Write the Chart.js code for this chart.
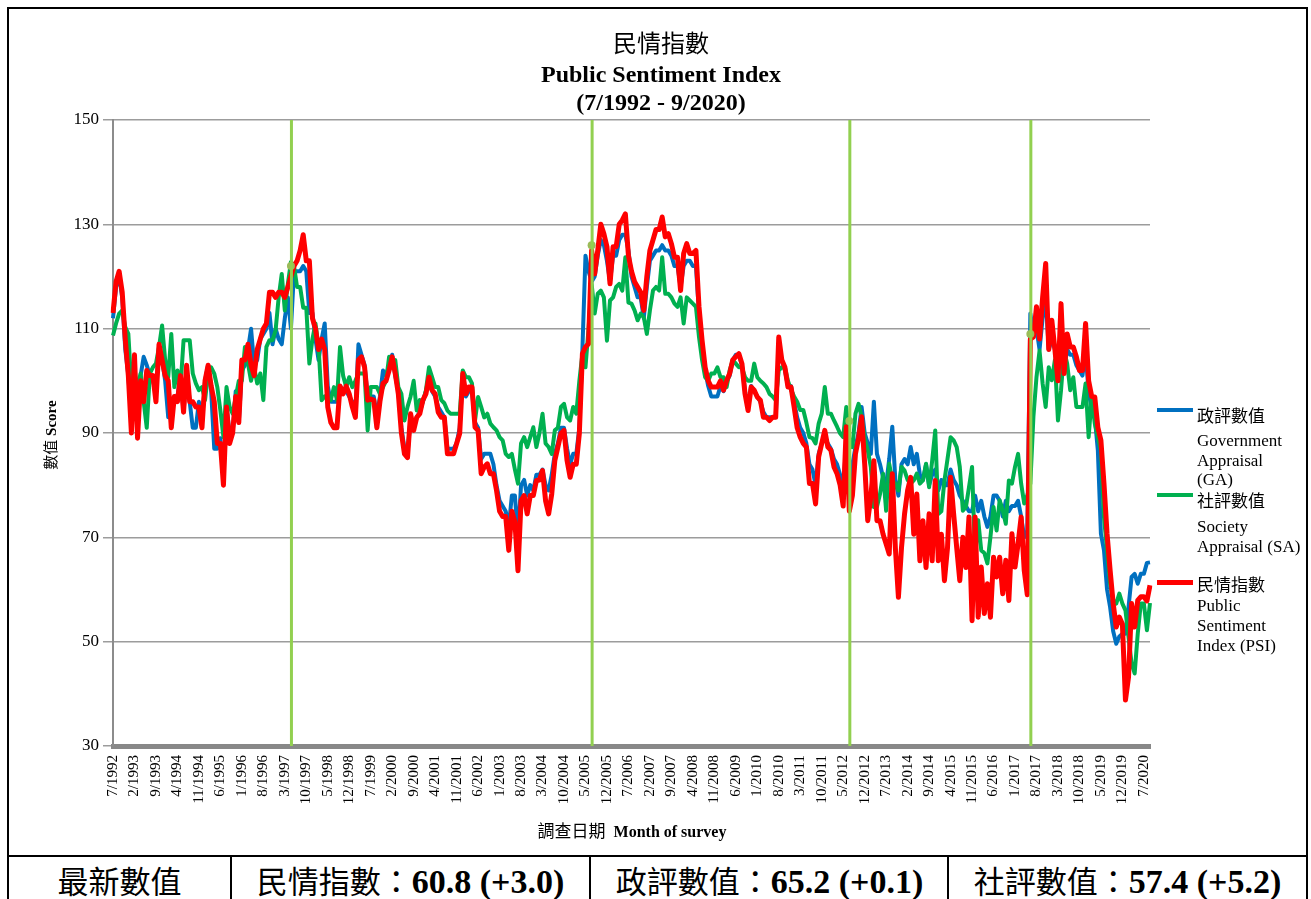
<!DOCTYPE html>
<html>
<head>
<meta charset="utf-8">
<title>民情指數 Public Sentiment Index</title>
<script src="https://cdn.jsdelivr.net/npm/chart.js"></script>
<style>
  body { margin: 0; width: 1311px; height: 899px; overflow: hidden; position: relative; background: #fff; color: #000;
         font-family: 'Liberation Serif', 'Noto Sans CJK TC', serif; }
  #frame { position: absolute; left: 7px; top: 7px; width: 1301px; height: 850px; border: 2px solid #000; box-sizing: border-box; }
  #psiChart { position: absolute; left: 0; top: 0; }
  .t { position: absolute; left: 411px; width: 500px; text-align: center; font-size: 24px; line-height: 30px; white-space: nowrap; }
  .t.zh { font-size: 24px; }
  .b { font-weight: bold; }
  .zh { font-family: 'Noto Sans CJK TC', sans-serif; font-weight: 400; }
  #ytitle { position: absolute; left: -50px; top: 425px; width: 200px; height: 20px; line-height: 20px; text-align: center;
            font-size: 15px; transform: rotate(-90deg); white-space: nowrap; }
  #xtitle { position: absolute; left: 432px; top: 820px; width: 400px; text-align: center; font-size: 16px; line-height: 20px; white-space: nowrap; }
  #xtitle .zh { font-size: 17px; }
  .lgline { position: absolute; left: 1157px; width: 36px; height: 4px; }
  .lg { position: absolute; left: 1197px; font-size: 17px; line-height: 20px; white-space: nowrap; }
  #table { position: absolute; left: 7px; top: 856px; width: 1301px; height: 50px; border-left: 2px solid #000; border-right: 2px solid #000; box-sizing: border-box; }
  .cell { position: absolute; top: 0; height: 48px; line-height: 48px; text-align: center; font-size: 34px; white-space: nowrap; }
  .cell .zh { font-size: 31px; }
  .sep { position: absolute; top: 0; width: 2px; height: 50px; background: #000; }
</style>
</head>
<body>
<div id="frame"></div>
<canvas id="psiChart" width="1311" height="855"></canvas>

<div class="t zh" style="top:27px">民情指數</div>
<div class="t b" style="top:59px">Public Sentiment Index</div>
<div class="t b" style="top:87px">(7/1992 - 9/2020)</div>

<div id="ytitle"><span class="zh">數值</span> <span class="b">Score</span></div>
<div id="xtitle"><span class="zh">調查日期</span>&nbsp; <span class="b">Month of survey</span></div>

<div class="lgline" style="top:408px;background:#0070C0"></div>
<div class="lg zh" style="top:405px">政評數值</div>
<div class="lg" style="top:431px">Government</div>
<div class="lg" style="top:451px">Appraisal</div>
<div class="lg" style="top:470px">(GA)</div>

<div class="lgline" style="top:493px;background:#00B050"></div>
<div class="lg zh" style="top:490px">社評數值</div>
<div class="lg" style="top:517px">Society</div>
<div class="lg" style="top:537px">Appraisal (SA)</div>

<div class="lgline" style="top:580px;height:5px;background:#FF0000"></div>
<div class="lg zh" style="top:574px">民情指數</div>
<div class="lg" style="top:596px">Public</div>
<div class="lg" style="top:616px">Sentiment</div>
<div class="lg" style="top:636px">Index (PSI)</div>

<div id="table">
  <div class="cell" style="left:0;width:221px"><span class="zh">最新數值</span></div>
  <div class="sep" style="left:221px"></div>
  <div class="cell" style="left:223px;width:357px"><span class="zh">民情指數：</span><span class="b">60.8 (+3.0)</span></div>
  <div class="sep" style="left:580px"></div>
  <div class="cell" style="left:582px;width:357px"><span class="zh">政評數值：</span><span class="b">65.2 (+0.1)</span></div>
  <div class="sep" style="left:938px"></div>
  <div class="cell" style="left:940px;width:357px"><span class="zh">社評數值：</span><span class="b">57.4 (+5.2)</span></div>
</div>

<script>
// monthly categories 7/1992 .. 9/2020
const startYear = 1992;
const startMonth = 7;
const monthCount = 339;
const months = [];
for (let k = 0; k < monthCount; k++) {
    const n = startMonth - 1 + k;
    months.push((n % 12 + 1) + '/' + (startYear + Math.floor(n / 12)));
}

// 民情指數 Public Sentiment Index (PSI)
const psiValues = [
    113, 119, 121, 117, 108, 101, 90, 105, 89, 100,
    96, 102, 101, 101, 96, 107, 104, 101, 100, 91,
    97, 96, 101, 94, 103, 96, 96, 95, 95, 91,
    100, 103, 99, 96, 88, 88, 80, 95, 88, 90,
    97, 92, 104, 104, 107, 103, 101, 106, 108, 110,
    111, 117, 117, 116, 117, 117, 116, 118, 120, 122,
    123, 125, 128, 123, 123, 112, 110, 106, 108, 106,
    95, 92, 91, 91, 99, 97.5, 99, 97.5, 95, 93,
    104, 104.6, 102.6, 96.3, 96.5, 96.3, 91, 96, 99.5, 100,
    102, 104.6, 101.4, 97.5, 90, 86, 85.3, 93.7, 90.5, 93,
    93.7, 96.3, 97.5, 100.7, 98.2, 97.5, 94, 93, 93, 86,
    86, 86, 88, 89.9, 101.4, 97.5, 98.8, 98.8, 91.1, 90.5,
    82.2, 83.5, 84.1, 82.2, 82.2, 79, 75, 74, 74, 67.5,
    75, 73, 63.6, 77, 78, 74.5, 78, 78, 80.9, 81,
    82.8, 77, 74.5, 78.3, 84.7, 87.3, 89.9, 90.5, 84.7, 81.5,
    84, 84, 89.9, 105.2, 106.5, 107.1, 125, 120.5, 125, 130,
    128.2, 125.7, 118.6, 125.7, 125.7, 130, 130.8, 132, 124, 121,
    119, 118, 117, 113.5, 120, 125, 127, 129, 129, 131.4,
    127.6, 128.2, 126.3, 123.7, 123.7, 117.3, 124.4, 126.3, 124.4, 124.4,
    125, 114.2, 107.8, 102.6, 100, 98.8, 98.8, 98.8, 100, 98.2,
    100, 101.4, 104, 104.6, 105.2, 103.3, 97.5, 94.3, 98.8, 98.2,
    96.9, 96.3, 93, 93, 92.4, 93, 93, 108.4, 104, 102.6,
    98.8, 98.8, 95, 91, 89.2, 88, 87.3, 80.3, 80.3, 76.4,
    85.4, 88, 90.5, 87.3, 86.7, 83.5, 82.2, 80, 76, 91.2,
    75, 78, 86, 89, 93.1, 84.1, 73.2, 77.7, 84.7, 73.2,
    73.2, 70.6, 68.7, 66.8, 82.2, 68, 58.5, 68, 74.5, 79,
    81.5, 70.6, 78.3, 65.5, 73.2, 64.2, 74.5, 65.5, 80.9, 65.5,
    70.6, 61.7, 68, 81.5, 74.5, 68, 61.7, 70, 64.2, 73.9,
    54, 73.9, 54.7, 64.3, 55.4, 61.1, 54.7, 66.2, 62.4, 66.2,
    59.2, 65.6, 57.9, 70.7, 64.3, 68.8, 73.9, 63.7, 59, 108,
    108.4, 114.2, 108, 116, 122.5, 106, 111.6, 106, 100, 114.8,
    101.4, 109, 106.5, 106.5, 104.6, 102, 102, 111, 100, 97,
    96.9, 91.1, 88.6, 80.3, 70.7, 63.7, 57.3, 52.8, 54.7, 53.4,
    38.8, 43.2, 57.3, 52.8, 57.9, 58.6, 58.6, 57.8, 60.8
];

// 政評數值 Government Appraisal (GA)
const gaValues = [
    112, 118, 120, 116, 106, 101, 92, 104, 91, 101,
    104.6, 103, 101, 100, 98, 106, 104, 100, 93, 93,
    97, 97, 101, 94, 102, 96, 91, 91, 96, 92,
    100, 103, 98, 87, 87, 89, 82, 95, 90, 90,
    98, 92, 102, 103, 106, 110, 103, 104, 108, 109,
    110, 113, 107, 110, 108, 107, 112, 116, 110, 121,
    121, 121, 122, 121, 113, 113, 108, 104, 108, 111,
    99, 96, 96, 96, 99, 98, 98, 97, 96, 94,
    107, 105, 103, 97, 97, 97, 93, 97, 102, 101,
    103, 105, 101, 98, 91, 87, 86, 93, 91, 93,
    94, 96, 98, 100, 98, 97, 95, 94, 93, 87,
    87, 87, 88, 91, 101, 97, 98, 98, 92, 91,
    85, 86, 86, 86, 84, 80, 77, 76, 75, 72,
    78, 78, 70, 80, 81, 78, 80, 79, 82, 82,
    83, 80, 79, 82, 86, 88, 91, 91, 87, 84,
    86, 86, 91, 106, 124, 121, 119, 120, 124, 127,
    126, 123, 119, 124, 124, 127, 128, 128, 125, 120,
    118, 116, 116, 112, 118, 123, 124, 125, 125, 126,
    125, 125, 124, 122, 122, 118, 122, 123, 123, 122,
    122, 113, 106, 102, 99, 97, 97, 97, 99, 98,
    100, 101, 104, 105, 105, 103, 98, 95, 99, 98,
    97, 96, 94, 93, 93, 93, 93, 106, 104, 102,
    99, 99, 96, 93, 91, 90, 88, 84, 83, 80,
    86, 88, 89, 88, 87, 85, 84, 82, 79.6, 88,
    80, 84, 87.3, 90, 95, 90, 88, 86, 96, 86,
    84, 81.5, 80, 85, 91.2, 81, 78, 84, 85, 84,
    87.3, 84, 86, 82, 81, 84, 80, 82, 83, 79,
    81, 80, 80, 83, 81, 80, 78, 77, 76, 75,
    75, 78, 75, 77, 74, 72, 74, 78, 78, 77,
    74, 77, 75, 76, 76, 77, 74, 70, 71, 112.9,
    109, 110, 106, 112, 116, 106, 108, 106, 100, 110,
    102, 106, 105, 105, 103, 102, 101, 106, 97.5, 95,
    93, 86.7, 70.7, 67.5, 60, 56.6, 52, 49.6, 51, 51.5,
    51.5, 56.6, 62.4, 63, 61.1, 63, 63, 65.1, 65.2
];

// 社評數值 Society Appraisal (SA)
const saValues = [
    108.7, 111, 112.9, 113.5, 110.3, 109, 98.8, 101.4, 98.8, 101.4,
    96, 91, 101.4, 102.6, 103.3, 106.5, 110.6, 104, 100.7, 109,
    98.8, 102, 98.8, 107.8, 107.8, 107.8, 101.4, 99.5, 98.2, 98.8,
    96.3, 101.4, 102.6, 101.4, 98.8, 94.3, 89.2, 98.8, 95, 93.7,
    96.9, 100, 100, 106.5, 103.3, 100, 102.6, 99.5, 101.4, 96.3,
    106.5, 107.8, 107.8, 109.7, 116, 120.5, 113.5, 118.6, 122.8, 122,
    118, 118, 114, 114, 103.3, 108, 111, 106.5, 96.3, 97,
    96.5, 96.3, 98.8, 96.3, 106.5, 101, 98.8, 100.7, 98.8, 100,
    101.4, 101.4, 101.4, 90.5, 98.8, 98.8, 98.8, 97.5, 98.8, 100,
    104.6, 104, 104, 98.8, 97.5, 92.4, 95, 97, 100, 94.3,
    96.3, 96, 98.2, 102.6, 100.7, 98.8, 98.8, 96.3, 95.7, 94.3,
    93.7, 93.7, 93.7, 93.7, 102, 100.7, 100.7, 99.5, 92.4, 96.9,
    95, 93, 93.7, 91.8, 91.1, 90.5, 89.2, 88.6, 86, 85.4,
    86, 83, 80.3, 88, 89.2, 87.3, 89.2, 91.1, 87.3, 90,
    93.7, 88, 87.3, 86, 90.5, 91, 95, 95.6, 93, 92.4,
    95, 93.7, 100, 105.2, 102.6, 110, 118.6, 112.9, 116.7, 117.3,
    116, 107.7, 115.4, 116, 118, 118.6, 117.3, 123.7, 115, 114.8,
    113.5, 111.6, 112.9, 112.2, 109, 113.5, 117.3, 118, 117.3, 123.7,
    116.7, 116.7, 116, 114.8, 114.2, 116, 111, 116, 115.4, 114.8,
    114.2, 108.4, 104, 100.7, 100, 101.4, 101.4, 102.6, 100.7, 100.7,
    98.8, 102, 104, 103.3, 102.6, 102.6, 100.7, 100, 100, 103.3,
    100.7, 100, 99.5, 98.8, 97.5, 97, 96.3, 102, 102.6, 102.6,
    100, 98.2, 97, 96, 94.4, 94.4, 92, 89.2, 89, 88,
    91.8, 93.7, 98.8, 93.7, 93.7, 92.4, 91.2, 89.9, 89.2, 95,
    88.6, 87.3, 93.7, 95.6, 93.1, 89, 86.7, 83.5, 75.8, 75.8,
    78.3, 82.2, 75.1, 84.1, 80.9, 80.3, 79, 83.5, 82.8, 81,
    80.3, 80.9, 82.2, 80.3, 80.9, 84.1, 79.6, 84.7, 90.5, 74.5,
    75, 80.9, 85, 89.2, 88.6, 87.3, 83.5, 75.1, 75.8, 79.6,
    83.5, 66.2, 73.3, 67.5, 67, 65, 70.1, 75.8, 71.3, 77.1,
    75.2, 72.6, 80.9, 80.3, 83.5, 86, 80.3, 76.5, 78, 80.3,
    93.1, 100.7, 105.8, 99.5, 95, 102.6, 100.1, 104, 92.4, 98.2,
    105.8, 103.3, 98.2, 100.7, 95, 95, 95, 99.5, 89.2, 96.9,
    91.8, 89.2, 86.7, 73.9, 67.5, 61.1, 58, 57.3, 59.2, 57.3,
    56, 50.9, 45.8, 43.9, 51.5, 57.3, 57.3, 52.2, 57.4
];

// change of Chief Executive markers (green verticals) and their dots
const markerMonths = ['5/1997', '7/2005', '7/2012', '6/2017'];
const markerValues = [122, 126, 92.3, 109];

const labelEvery = 7;

const markerLines = {
    id: 'markerLines',
    afterDatasetsDraw(chart) {
        const {ctx, chartArea, scales} = chart;
        ctx.save();
        ctx.strokeStyle = '#92D050';
        ctx.lineWidth = 3;
        markerMonths.forEach(m => {
            const px = scales.x.getPixelForValue(months.indexOf(m)) + 0.5;
            ctx.beginPath();
            ctx.moveTo(px, chartArea.top);
            ctx.lineTo(px, chartArea.bottom);
            ctx.stroke();
        });
        ctx.restore();
    }
};

const serif = "'Liberation Serif', serif";

const ctx = document.getElementById('psiChart').getContext('2d');

const chart = new Chart(ctx, {
    type: 'line',
    data: {
        labels: months,
        datasets: [{
            label: '政評數值 Government Appraisal (GA)',
            data: gaValues,
            borderColor: '#0070C0',
            borderWidth: 4,
            pointRadius: 0,
            borderJoinStyle: 'round',
            order: 3
        }, {
            label: '社評數值 Society Appraisal (SA)',
            data: saValues,
            borderColor: '#00B050',
            borderWidth: 4,
            pointRadius: 0,
            borderJoinStyle: 'round',
            order: 2
        }, {
            label: '民情指數 Public Sentiment Index (PSI)',
            data: psiValues,
            borderColor: '#FF0000',
            borderWidth: 5,
            pointRadius: 0,
            borderJoinStyle: 'round',
            order: 1
        }, {
            label: 'markers',
            data: markerMonths.map((m, k) => ({x: m, y: markerValues[k]})),
            showLine: false,
            pointRadius: 4,
            pointBorderWidth: 0,
            pointBackgroundColor: '#9BBB59',
            borderColor: '#9BBB59',
            order: 0
        }]
    },
    options: {
        responsive: false,
        animation: false,
        layout: { padding: { top: 120, right: 161, left: 0, bottom: 0 } },
        plugins: {
            legend: { display: false },
            tooltip: { enabled: false },
            title: { display: false }
        },
        scales: {
            x: {
                grid: { display: false, drawTicks: false },
                border: { display: true, color: '#888888', width: 5 },
                ticks: {
                    autoSkip: false,
                    minRotation: 90,
                    maxRotation: 90,
                    padding: 9,
                    color: '#000',
                    font: { family: serif, size: 15 }
                },
                afterBuildTicks: (scale) => {
                    scale.ticks = scale.ticks.filter(t => t.value % labelEvery === 0);
                },
                afterFit: (scale) => { scale.height = 109; }
            },
            y: {
                min: 30,
                max: 150,
                ticks: {
                    stepSize: 20,
                    padding: 4,
                    color: '#000',
                    font: { family: serif, size: 17 }
                },
                grid: { color: '#9c9c9c', lineWidth: 1.5, tickLength: 10 },
                border: { color: '#8c8c8c', width: 2 },
                afterFit: (scale) => { scale.width = 113; }
            }
        }
    },
    plugins: [markerLines]
});
</script>
</body>
</html>
